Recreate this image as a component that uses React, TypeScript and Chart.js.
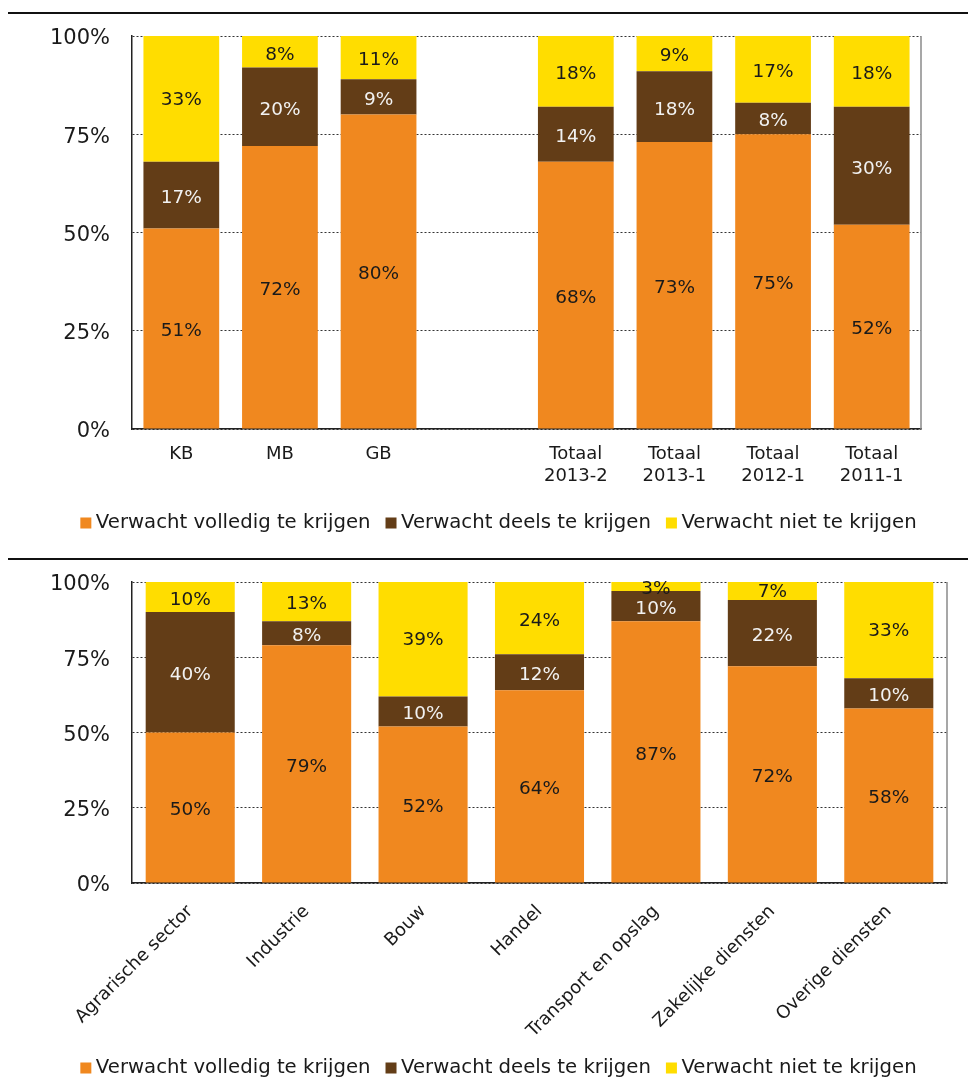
import React, { useEffect, useRef } from "react";
import { Chart, registerables } from "chart.js";

Chart.register(...registerables);

// ---------- data ----------
const sizeCategories: (string | string[])[] = [
  "KB",
  "MB",
  "GB",
  "",
  ["Totaal", "2013-2"],
  ["Totaal", "2013-1"],
  ["Totaal", "2012-1"],
  ["Totaal", "2011-1"],
];
const sizeFull: (number | null)[] = [51, 72, 80, null, 68, 73, 75, 52];
const sizePartial: (number | null)[] = [17, 20, 9, null, 14, 18, 8, 30];
const sizeNone: (number | null)[] = [33, 8, 11, null, 18, 9, 17, 18];

const sectorCategories: string[] = [
  "Agrarische sector",
  "Industrie",
  "Bouw",
  "Handel",
  "Transport en opslag",
  "Zakelijke diensten",
  "Overige diensten",
];
const sectorFull: number[] = [50, 79, 52, 64, 87, 72, 58];
const sectorPartial: number[] = [40, 8, 10, 12, 10, 22, 10];
const sectorNone: number[] = [10, 13, 39, 24, 3, 7, 33];

const seriesNames = [
  "Verwacht volledig te krijgen",
  "Verwacht deels te krijgen",
  "Verwacht niet te krijgen",
];
const yTicks = [0, 25, 50, 75, 100];

// ---------- styles ----------
const FONT = "'DejaVu Sans', Verdana, sans-serif";
const TEXT = "#1a1a1a";
const COLORS = ["#F0881F", "#633D17", "#FFDD00"];
const LABEL_COLORS = ["#1a1a1a", "#F2F2F2", "#1a1a1a"];

Chart.defaults.font.family = FONT;
Chart.defaults.color = TEXT;

const segmentLabels = {
  id: "segmentLabels",
  afterDatasetsDraw(chart: any, _args: any, opts: any) {
    const ctx = chart.ctx;
    ctx.save();
    ctx.font = `${opts.size}px ${FONT}`;
    ctx.textAlign = "center";
    ctx.textBaseline = "middle";
    chart.data.datasets.forEach((ds: any, di: number) => {
      const meta = chart.getDatasetMeta(di);
      meta.data.forEach((el: any, i: number) => {
        const v = ds.data[i];
        if (v == null) return;
        const p = el.getProps(["x", "y", "base"], true);
        ctx.fillStyle = LABEL_COLORS[di];
        ctx.fillText(`${v}%`, p.x, (p.y + p.base) / 2 + 3);
      });
    });
    ctx.restore();
  },
};

const frameRight = {
  id: "frameRight",
  afterDraw(chart: any) {
    const { ctx, chartArea } = chart;
    ctx.save();
    ctx.strokeStyle = "#8a8a8a";
    ctx.lineWidth = 1.5;
    ctx.beginPath();
    ctx.moveTo(chartArea.right, chartArea.top);
    ctx.lineTo(chartArea.right, chartArea.bottom);
    ctx.stroke();
    ctx.restore();
  },
};

const customLegend = {
  id: "customLegend",
  afterDraw(chart: any, _args: any, opts: any) {
    const ctx = chart.ctx;
    ctx.save();
    ctx.font = `${opts.size}px ${FONT}`;
    const items = chart.data.datasets.map((d: any) => ({
      text: d.label,
      color: d.backgroundColor,
    }));
    const widths = items.map((it: any) => ctx.measureText(it.text).width);
    const box = opts.box;
    const gap = opts.gap;
    const spacing = opts.spacing;
    const total =
      widths.reduce((a: number, w: number) => a + box + gap + w, 0) +
      spacing * (items.length - 1);
    let x = opts.centerX - total / 2;
    const y = opts.y;
    items.forEach((it: any, i: number) => {
      ctx.fillStyle = it.color;
      ctx.fillRect(x, y - box / 2, box, box);
      ctx.fillStyle = TEXT;
      ctx.textAlign = "left";
      ctx.textBaseline = "middle";
      ctx.fillText(it.text, x + box + gap, y);
      x += box + gap + widths[i] + spacing;
    });
    ctx.restore();
  },
};

type Cfg = {
  labels: any[];
  full: (number | null)[];
  partial: (number | null)[];
  none: (number | null)[];
  width: number;
  height: number;
  padTop: number;
  padRight: number;
  yAxisWidth: number;
  xAxisHeight: number;
  barPct: number;
  rotate: number;
  xTickPadding: number;
  xLabelOffset: number;
  legendY: number;
};

function StackedChart(props: Cfg) {
  const ref = useRef<HTMLCanvasElement | null>(null);
  useEffect(() => {
    if (!ref.current) return;
    const chart = new Chart(ref.current, {
      type: "bar",
      data: {
        labels: props.labels,
        datasets: [props.full, props.partial, props.none].map((d, i) => ({
          label: seriesNames[i],
          data: d,
          backgroundColor: COLORS[i],
          borderWidth: 0,
          barPercentage: props.barPct,
          categoryPercentage: 1,
        })),
      },
      options: {
        animation: false,
        responsive: false,
        devicePixelRatio: 1,
        layout: {
          padding: { top: props.padTop, right: props.padRight, left: 0, bottom: 0 },
        },
        scales: {
          x: {
            stacked: true,
            grid: { display: false },
            border: { display: true, color: "#222", width: 1.5 },
            ticks: {
              font: { size: 18 },
              color: TEXT,
              padding: props.xTickPadding,
              minRotation: props.rotate,
              maxRotation: props.rotate,
              autoSkip: false,
              labelOffset: props.xLabelOffset,
            },
            afterFit: (s: any) => {
              s.height = props.xAxisHeight;
            },
          },
          y: {
            stacked: true,
            min: 0,
            max: 100,
            afterBuildTicks: (s: any) => {
              s.ticks = yTicks.map((v) => ({ value: v }));
            },
            ticks: {
              font: { size: 21 },
              color: TEXT,
              padding: 0,
              labelOffset: 3,
              callback: (v: any) => `${v}%`,
            },
            grid: {
              color: "#333",
              lineWidth: 1,
              drawTicks: true,
              tickLength: 22,
              tickColor: "rgba(0,0,0,0)",
            },
            border: { display: true, color: "#222", width: 1.5, dash: [2, 2] },
            afterFit: (s: any) => {
              s.width = props.yAxisWidth;
            },
          },
        },
        plugins: {
          legend: { display: false },
          tooltip: { enabled: false },
          segmentLabels: { size: 18.5 },
          customLegend: {
            size: 19.7,
            box: 11,
            gap: 4.5,
            spacing: 15,
            centerX: 498.5,
            y: props.legendY,
          },
        } as any,
      },
      plugins: [segmentLabels, frameRight, customLegend],
    });
    return () => chart.destroy();
  }, []);
  return (
    <canvas
      ref={ref}
      width={props.width}
      height={props.height}
      style={{ display: "block" }}
    />
  );
}

export default function App() {
  return (
    <div
      style={{
        position: "fixed",
        top: 0,
        left: 0,
        width: 968,
        height: 1079,
        overflow: "hidden",
        background: "#fff",
      }}
    >
      <div
        style={{ position: "absolute", left: 8, top: 12, width: 960, height: 2, background: "#111" }}
      />
      <div style={{ position: "absolute", left: 0, top: 0 }}>
        <StackedChart
          labels={sizeCategories}
          full={sizeFull}
          partial={sizePartial}
          none={sizeNone}
          width={968}
          height={558}
          padTop={36}
          padRight={47}
          yAxisWidth={132}
          xAxisHeight={129}
          barPct={0.768}
          rotate={0}
          xTickPadding={7}
          xLabelOffset={0}
          legendY={523}
        />
      </div>
      <div
        style={{ position: "absolute", left: 8, top: 558, width: 960, height: 2, background: "#111" }}
      />
      <div style={{ position: "absolute", left: 0, top: 560 }}>
        <StackedChart
          labels={sectorCategories}
          full={sectorFull}
          partial={sectorPartial}
          none={sectorNone}
          width={968}
          height={519}
          padTop={22}
          padRight={21}
          yAxisWidth={132}
          xAxisHeight={196}
          barPct={0.765}
          rotate={45}
          xTickPadding={10}
          xLabelOffset={0}
          legendY={508}
        />
      </div>
    </div>
  );
}
